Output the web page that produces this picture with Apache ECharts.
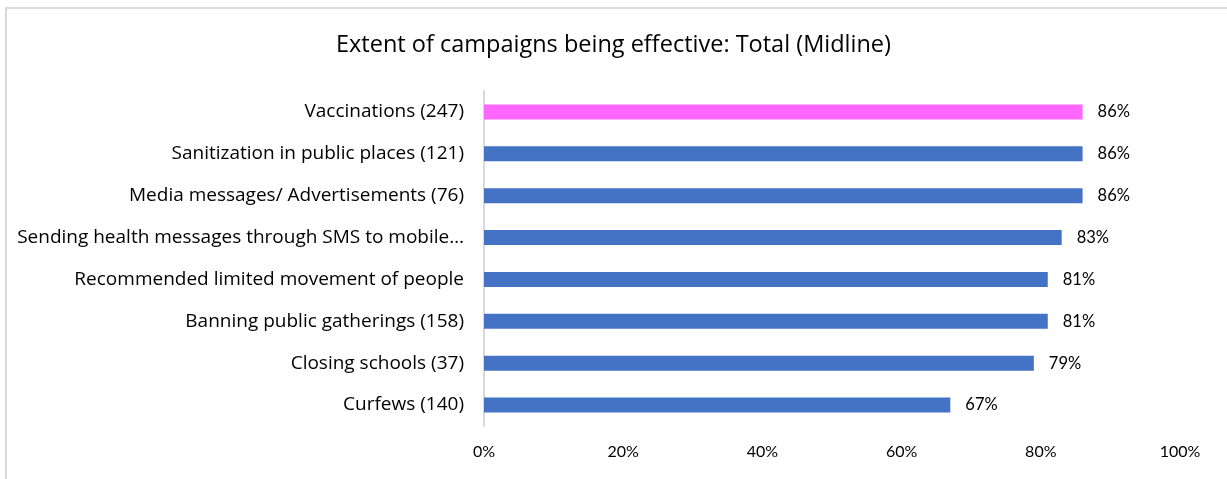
<!DOCTYPE html>
<html>
<head>
<meta charset="utf-8">
<script src="https://cdn.jsdelivr.net/npm/echarts@6/dist/echarts.min.js"></script>
<style>
  html, body { margin: 0; padding: 0; background: #ffffff; }
  #frame {
    position: absolute; left: 5px; top: 7px; width: 1240px; height: 490px;
    border-left: 2px solid #d9d9d9; border-top: 2px solid #d9d9d9;
    box-sizing: border-box;
  }
  #chart { position: absolute; left: 0; top: 0; width: 1227px; height: 479px; }
</style>
</head>
<body>
<div id="frame"></div>
<div id="chart"></div>
<script>
// Campaign categories, top to bottom
const categories = [
  'Vaccinations (247)',
  'Sanitization in public places (121)',
  'Media messages/ Advertisements (76)',
  'Sending health messages through SMS to mobile…',
  'Recommended limited movement of people',
  'Banning public gatherings (158)',
  'Closing schools (37)',
  'Curfews (140)'
];
// Share rating each campaign effective (%)
const effectivePct = [86, 86, 86, 83, 81, 81, 79, 67];
// Horizontal axis ticks (%)
const tickValues = [0, 20, 40, 60, 80, 100];

const TEXT_FONT = 'Open Sans';
const NUM_FONT = 'Lato';
const highlight = '#ff66ff';
const base = '#4472c4';

const chart = echarts.init(document.getElementById('chart'), null, { renderer: 'canvas' });

// ECharts category axes run bottom-up, so reverse for top-down ordering
const cats = categories.slice().reverse();
const vals = effectivePct.slice().reverse().map((v, i) => ({
  value: v,
  itemStyle: { color: cats[i] === categories[0] ? highlight : base }
}));

chart.setOption({
  animation: false,
  title: {
    text: 'Extent of campaigns being effective: Total (Midline)',
    left: 'center',
    top: 28,
    textStyle: { fontFamily: TEXT_FONT, fontSize: 23.5, fontWeight: 'normal', color: '#000' }
  },
  grid: { left: 484, right: 47, top: 91, bottom: 53, containLabel: false },
  xAxis: {
    type: 'value',
    min: tickValues[0],
    max: tickValues[tickValues.length - 1],
    interval: tickValues[1] - tickValues[0],
    axisLine: { show: false },
    axisTick: { show: false },
    splitLine: { show: false },
    axisLabel: {
      formatter: v => v + '%',
      fontFamily: NUM_FONT, fontSize: 16, color: '#000', margin: 18
    }
  },
  yAxis: {
    type: 'category',
    data: cats,
    axisLine: { show: true, lineStyle: { color: '#d9d9d9', width: 2 } },
    axisTick: { show: false },
    axisLabel: { fontFamily: TEXT_FONT, fontSize: 19, color: '#000', margin: 20 }
  },
  series: [{
    type: 'bar',
    data: vals,
    barWidth: 15,
    label: {
      show: true,
      position: 'right',
      distance: 15,
      formatter: p => p.value + '%',
      fontFamily: NUM_FONT, fontSize: 16.5, color: '#000'
    }
  }]
});
</script>
</body>
</html>
